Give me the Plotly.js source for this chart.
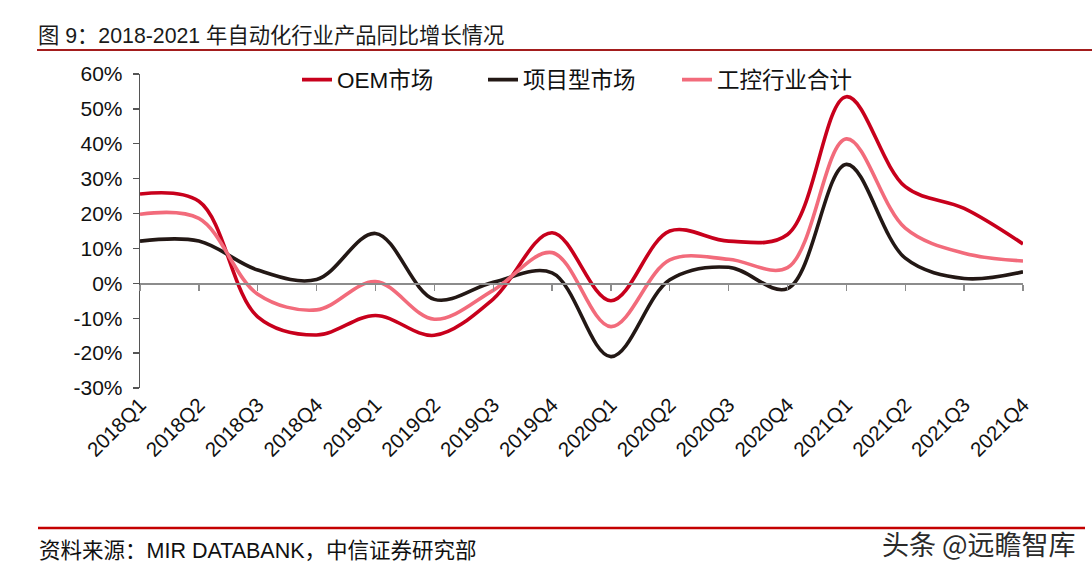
<!DOCTYPE html>
<html>
<head>
<meta charset="utf-8">
<script src="https://cdn.plot.ly/plotly-3.0.1.min.js"></script>
<style>html,body{margin:0;padding:0;background:#fff;}#chart{width:1092px;height:573px;}</style>
</head>
<body>
<div id="chart"></div>
<script>
const quarters = ["2018Q1","2018Q2","2018Q3","2018Q4","2019Q1","2019Q2","2019Q3","2019Q4",
                  "2020Q1","2020Q2","2020Q3","2020Q4","2021Q1","2021Q2","2021Q3","2021Q4"];
const oemMarket = [25.6, 23.5, -9.6, -14.8, -9.2, -14.9, -4.5, 14.5, -5.0, 15.0, 12.1, 14.0, 53.5, 27.7, 21.5, 11.3];
const projectMarket = [12.1, 12.1, 3.8, 1.1, 14.3, -4.6, 0.3, 3.0, -21.0, 1.0, 4.6, -1.5, 34.1, 7.2, 1.4, 3.3];
const industryTotal = [19.8, 18.6, -3.1, -7.6, 0.5, -10.3, -2.0, 8.8, -12.4, 6.7, 6.9, 4.5, 41.4, 15.8, 8.6, 6.4];
const seriesNames = ["OEM市场", "项目型市场", "工控行业合计"];
const yTickVals = [-30, -20, -10, 0, 10, 20, 30, 40, 50, 60];
const yTickText = yTickVals.map(v => v + "%");

const FONT = "Arial, 'Liberation Sans', 'Noto Sans CJK SC', sans-serif";
const mk = (y, name, color, lg) => ({
  x: quarters, y: y, name: name, type: "scatter", mode: "lines", legend: lg,
  line: {color: color, width: 3.6, shape: "spline", smoothing: 1.0},
  hoverinfo: "skip"
});
const traces = [
  mk(oemMarket, seriesNames[0], "#c8001c", "legend"),
  mk(projectMarket, seriesNames[1], "#231815", "legend2"),
  mk(industryTotal, seriesNames[2], "#f26b7b", "legend3"),
  {x: quarters, y: projectMarket, xaxis: "x2", yaxis: "y", type: "scatter", mode: "lines",
   line: {width: 0, color: "rgba(0,0,0,0)"}, showlegend: false, hoverinfo: "skip"}
];

const L = 140, R = 1023, T = 74, B = 388;
const px2x = p => (p - L) / (R - L);
const px2y = p => (B - p) / (B - T);
const legendFont = {size: 22.5, color: "#111", family: FONT};
const mkLegend = xpx => ({orientation: "h", x: px2x(xpx), xanchor: "left", y: px2y(80), yanchor: "middle",
  font: legendFont, bgcolor: "rgba(0,0,0,0)", borderwidth: 0});

const layout = {
  width: 1092, height: 573,
  margin: {l: L, r: 1092 - R, t: T, b: 573 - B},
  paper_bgcolor: "#fff", plot_bgcolor: "#fff",
  font: {family: FONT, color: "#111", size: 20},
  showlegend: true,
  legend: mkLegend(297),
  legend2: mkLegend(483),
  legend3: mkLegend(677),
  title: {text: "图 9：2018-2021 年自动化行业产品同比增长情况", xref: "container", yref: "container",
          x: 38/1092, xanchor: "left", y: 1 - 36/573, yanchor: "middle",
          font: {size: 21.3, color: "#1a1a1a", family: FONT}},
  xaxis: {type: "category", range: [0, 15], showline: false, ticks: "", showgrid: false, zeroline: false,
          tickangle: -45, tickfont: {size: 20.5, color: "#111", family: FONT}, fixedrange: true},
  xaxis2: {type: "category", range: [0, 15], overlaying: "x", anchor: "free", position: px2y(283.3),
           showline: true, linecolor: "#8c8c8c", linewidth: 1.3, ticks: "outside", ticklen: 6,
           tickcolor: "#8c8c8c", tickwidth: 1.3, showticklabels: false, showgrid: false, zeroline: false},
  yaxis: {range: [-30, 60], tickvals: yTickVals, ticktext: yTickText, showline: true, linecolor: "#555",
          linewidth: 1.3, ticks: "outside", ticklen: 6, tickcolor: "#555", tickwidth: 1.3,
          showgrid: false, zeroline: false, tickfont: {size: 21, color: "#111", family: FONT}, ticklabelstandoff: 6},
  shapes: [
    {type: "line", xref: "paper", yref: "paper", x0: px2x(37), x1: px2x(1092), y0: px2y(50), y1: px2y(50),
     line: {color: "#a31d1d", width: 2}},
    {type: "line", xref: "paper", yref: "paper", x0: px2x(38), x1: px2x(1085), y0: px2y(528), y1: px2y(528),
     line: {color: "#c40000", width: 2.5}}
  ],
  annotations: [
    {text: "资料来源：MIR DATABANK，中信证券研究部", xref: "paper", yref: "paper", x: px2x(37), xanchor: "left",
     y: px2y(551), yanchor: "middle", showarrow: false, font: {size: 21.5, color: "#111", family: FONT}},
    {text: "头条 @远瞻智库", xref: "paper", yref: "paper", x: px2x(1078), xanchor: "right",
     y: px2y(543), yanchor: "middle", showarrow: false, font: {size: 27, color: "#2a2a2a", family: "'Noto Sans CJK SC', sans-serif"}}
  ]
};
Plotly.newPlot("chart", traces, layout, {displayModeBar: false, staticPlot: true});
</script>
</body>
</html>
